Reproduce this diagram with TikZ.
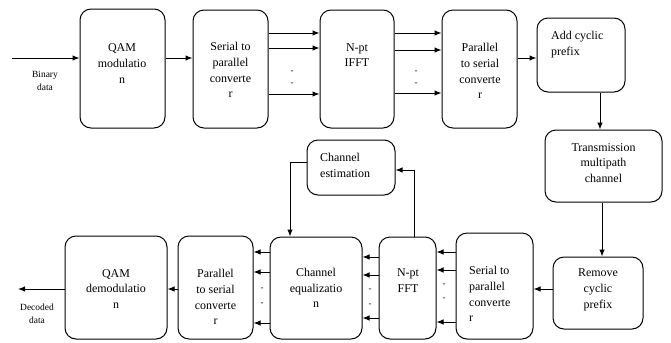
\documentclass[tikz,border=0pt]{standalone}
\usepackage{fontspec}
\setmainfont{Liberation Serif}
\usetikzlibrary{arrows.meta,calc}
\tikzset{
  blk/.style={draw, line width=1bp, rounded corners=11bp, rectangle, inner sep=0pt},
  txt/.style={inner sep=0pt, align=center, font=\fontsize{12}{15.8}\selectfont},
  ltxt/.style={inner sep=0pt, align=left, anchor=west, font=\fontsize{12}{15.8}\selectfont},
  small/.style={inner sep=0pt, align=center, font=\fontsize{9.5}{13}\selectfont},
  dot/.style={inner sep=0pt, font=\fontsize{9}{9}\selectfont},
  arr/.style={line width=1bp, -{Latex[length=7bp,width=5.5bp]}},
}
\begin{document}
\begin{tikzpicture}[x=1bp,y=-1bp]
\useasboundingbox (0,0) rectangle (671,342);
% boxes
\node[blk, minimum width=85bp, minimum height=119bp] (qam) at (122.5,68.5) {};
\node[blk, minimum width=75bp, minimum height=118bp] (s2p) at (230.5,69) {};
\node[blk, minimum width=74bp, minimum height=118bp] (ifft) at (357,69) {};
\node[blk, minimum width=75bp, minimum height=118bp] (p2s) at (479.5,69) {};
\node[blk, minimum width=88bp, minimum height=74bp] (acp) at (581,55) {};
\node[blk, minimum width=117bp, minimum height=72bp] (tmc) at (603.5,166) {};
\node[blk, minimum width=90bp, minimum height=72bp] (rcp) at (598,293) {};
\node[blk, minimum width=77bp, minimum height=106bp] (s2pb) at (494.5,286) {};
\node[blk, minimum width=57bp, minimum height=102bp] (fft) at (407.5,288) {};
\node[blk, minimum width=92bp, minimum height=102bp] (eq) at (316,288) {};
\node[blk, minimum width=75bp, minimum height=103bp] (p2sb) at (215.5,287.5) {};
\node[blk, minimum width=102bp, minimum height=103bp] (qamd) at (116,287.5) {};
\node[blk, minimum width=88bp, minimum height=55bp] (ce) at (351,167.5) {};
% texts
\node[txt] (tqam) at (122,63.5) {QAM\\modulatio\\n};
\node[txt] (ts2p) at (230.5,70) {Serial to\\parallel\\converte\\r};
\node[txt] (tifft) at (357,55) {N-pt\\IFFT};
\node[txt] (tp2s) at (480,71) {Parallel\\to serial\\converte\\r};
\node[ltxt] (tacp) at (551,44.5) {Add cyclic\\prefix};
\node[txt] (ttmc) at (603.5,163) {Transmission\\multipath\\channel};
\node[txt] (trcp) at (598,290) {Remove\\cyclic\\prefix};
\node[ltxt] (ts2pb) at (469,294) {Serial to\\parallel\\converte\\r};
\node[txt] (tfft) at (408,280.5) {N-pt\\FFT};
\node[txt] (teq) at (316,288) {Channel\\equalizatio\\n};
\node[txt] (tp2sb) at (215.5,297) {Parallel\\to serial\\converte\\r};
\node[txt] (tqamd) at (116,289) {QAM\\demodulatio\\n};
\node[ltxt] (tce) at (320,165.5) {Channel\\estimation};
\node[small] (tbin) at (45,81) {Binary\\data};
\node[small] (tdec) at (37,314) {Decoded\\data};
% helper coordinates
\coordinate (bin) at (12,58);
\coordinate (dec) at (18,289);
\foreach \v in {33,48,50,58,93,94,162,170,252,257,270,272,275,289,318,322,323}
  {\coordinate (y\v) at (0,\v);}
\foreach \v in {290,414,600,602}
  {\coordinate (x\v) at (\v,0);}
% top row
\draw[arr] (bin) -- (qam.west |- bin);
\draw[arr] (qam.east |- y58) -- (s2p.west |- y58);
\draw[arr] (s2p.east |- y33) -- (ifft.west |- y33);
\draw[arr] (s2p.east |- y48) -- (ifft.west |- y48);
\draw[arr] (s2p.east |- y94) -- (ifft.west |- y94);
\node[dot] (d1) at (292,72) {-};
\node[dot] (d2) at (292,84) {-};
\draw[arr] (ifft.east |- y33) -- (p2s.west |- y33);
\draw[arr] (ifft.east |- y50) -- (p2s.west |- y50);
\draw[arr] (ifft.east |- y93) -- (p2s.west |- y93);
\node[dot] (d3) at (416,72) {-};
\node[dot] (d4) at (416,84) {-};
\draw[arr] (p2s.east |- y58) -- (acp.west |- y58);
% right column
\draw[arr] (acp.south -| x600) -- (tmc.north -| x600);
\draw[arr] (tmc.south -| x602) -- (rcp.north -| x602);
% bottom row
\draw[arr] (rcp.west |- y289) -- (s2pb.east |- y289);
\draw[arr] (s2pb.west |- y252) -- (fft.east |- y252);
\draw[arr] (s2pb.west |- y270) -- (fft.east |- y270);
\draw[arr] (s2pb.west |- y322) -- (fft.east |- y322);
\node[dot] (d5) at (444,285) {-};
\node[dot] (d6) at (444,299) {-};
\draw[arr] (fft.west |- y257) -- (eq.east |- y257);
\draw[arr] (fft.west |- y275) -- (eq.east |- y275);
\draw[arr] (fft.west |- y318) -- (eq.east |- y318);
\node[dot] (d7) at (370,290) {-};
\node[dot] (d8) at (370,305) {-};
\draw[arr] (eq.west |- y252) -- (p2sb.east |- y252);
\draw[arr] (eq.west |- y272) -- (p2sb.east |- y272);
\draw[arr] (eq.west |- y323) -- (p2sb.east |- y323);
\node[dot] (d9) at (262,289) {-};
\node[dot] (d10) at (262,304) {-};
\draw[arr] (p2sb.west |- y289) -- (qamd.east |- y289);
\draw[arr] (qamd.west |- y289) -- (dec);
% channel estimation loop
\draw[arr] (fft.north -| x414) -- (x414 |- y170) -- (ce.east |- y170);
\draw[arr] (ce.west |- y162) -- (x290 |- y162) -- (eq.north -| x290);
\end{tikzpicture}
\end{document}
